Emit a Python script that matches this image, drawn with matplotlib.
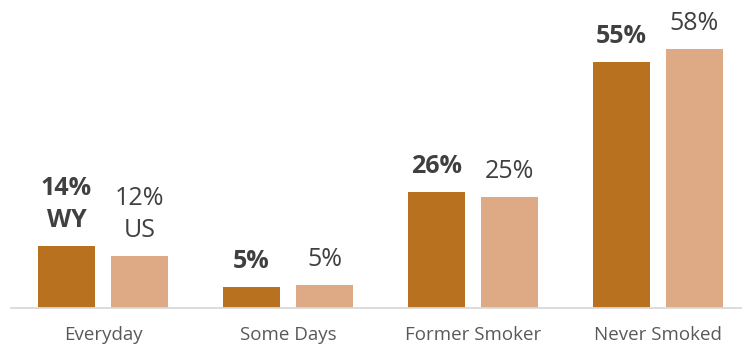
import matplotlib
matplotlib.use("Agg")
import matplotlib.pyplot as plt
import numpy as np

plt.rcParams['font.family'] = ['Open Sans', 'DejaVu Sans']

categories = ["Everyday", "Some Days", "Former Smoker", "Never Smoked"]
wy_values = [13.9, 4.6, 25.9, 55.0]
us_values = [11.6, 5.1, 24.8, 57.9]
wy_labels = ["14%", "5%", "26%", "55%"]
us_labels = ["12%", "5%", "25%", "58%"]
series_names = ["WY", "US"]

dark = "#B8721F"
light = "#DDAA85"
text_dark = "#404040"
cat_color = "#595959"

W, H = 742, 345
fig = plt.figure(figsize=(W / 100, H / 100), dpi=100)
left_px, right_px = 10.5, 750.5
base_px = 308  # from top
ax = fig.add_axes([left_px / W, (H - base_px) / H, (right_px - left_px) / W, base_px / H])

x = np.arange(len(categories))
bw = 0.308
off = 0.197
ax.bar(x - off, wy_values, width=bw, color=dark, zorder=2)
ax.bar(x + off, us_values, width=bw, color=light, zorder=2)

ax.set_xlim(-0.5, 3.5)
ax.set_ylim(0, base_px / 4.47)

for s in ["top", "left", "right"]:
    ax.spines[s].set_visible(False)
ax.spines["bottom"].set_color("#D9D9D9")
ax.spines["bottom"].set_linewidth(1.3)
ax.set_yticks([])
ax.set_xticks(x)
ax.set_xticklabels(categories, fontsize=13.5, color=cat_color)
ax.tick_params(axis="x", length=0, pad=13)

gap = 19 * 0.72
line = 32 * 0.72
fs = 18
for i in range(len(categories)):
    if i == 0:
        ax.annotate(series_names[0], (x[i] - off, wy_values[i]), xytext=(0, gap),
                    textcoords="offset points", ha="center", va="baseline",
                    fontsize=fs, fontweight="bold", color=text_dark)
        ax.annotate(wy_labels[i], (x[i] - off, wy_values[i]), xytext=(0, gap + line),
                    textcoords="offset points", ha="center", va="baseline",
                    fontsize=fs, fontweight="bold", color=text_dark)
        ax.annotate(series_names[1], (x[i] + off, us_values[i]), xytext=(0, gap),
                    textcoords="offset points", ha="center", va="baseline",
                    fontsize=fs, color=text_dark)
        ax.annotate(us_labels[i], (x[i] + off, us_values[i]), xytext=(0, gap + line),
                    textcoords="offset points", ha="center", va="baseline",
                    fontsize=fs, color=text_dark)
    else:
        ax.annotate(wy_labels[i], (x[i] - off, wy_values[i]), xytext=(0, gap),
                    textcoords="offset points", ha="center", va="baseline",
                    fontsize=fs, fontweight="bold", color=text_dark)
        ax.annotate(us_labels[i], (x[i] + off, us_values[i]), xytext=(0, gap),
                    textcoords="offset points", ha="center", va="baseline",
                    fontsize=fs, color=text_dark)

fig.savefig("out.png", dpi=100)
